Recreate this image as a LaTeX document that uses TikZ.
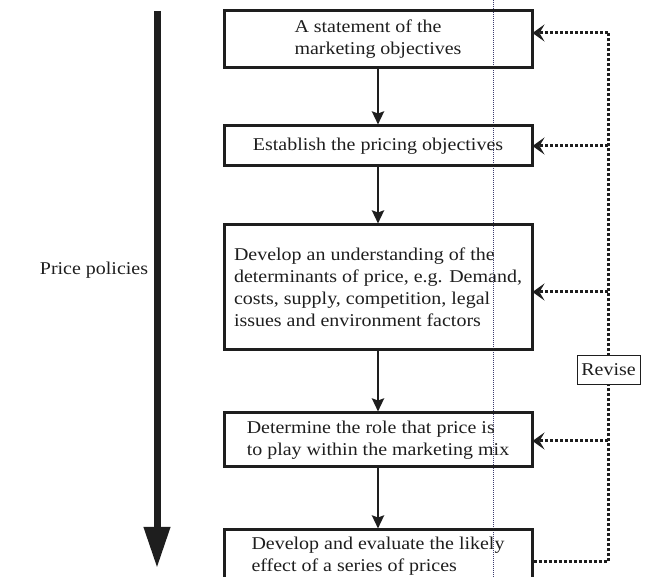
\documentclass[tikz,border=0pt]{standalone}
\usepackage{fontspec}
\setmainfont{Liberation Serif}[FakeStretch=1.11]
\usetikzlibrary{arrows.meta}
\definecolor{ink}{RGB}{30,30,30}
\definecolor{guide}{RGB}{60,60,110}
\begin{document}
\begin{tikzpicture}[x=1pt,y=-1pt,
  every node/.style={font=\fontsize{18pt}{22pt}\selectfont, text=ink},
  stepbox/.style={draw=ink, line width=3pt, minimum width=308pt, inner sep=0pt, align=left, anchor=center},
  flow/.style={draw=ink, line width=2.8pt, -{Stealth[length=13pt,width=12pt,inset=2pt]}},
  fbline/.style={draw=ink, line width=3pt, dash pattern=on 3pt off 2pt},
  fbarrow/.style={fbline, -{Stealth[length=12pt,width=17pt,inset=5pt]}, shorten >=-1pt},
  revbox/.style={draw=ink, line width=0.9pt, fill=white, minimum width=63pt, minimum height=29pt, inner sep=0pt}
]
\useasboundingbox (0,0) rectangle (649,577);
% thin guide line
\draw[guide, line width=0.6pt, dash pattern=on 1pt off 1pt] (493,0) -- (493,577);

% big arrow
\coordinate (ptop) at (157,11);
\coordinate (pbot) at (157,568);
\draw[ink, line width=7pt, -{Triangle[length=41pt,width=25pt]}] (ptop) -- (pbot);
\node (pp) at (94,270) {Price policies};

% boxes
\node[stepbox, minimum height=57pt] (b1) at (378,39.5) {A statement of the\\marketing objectives};
\node[stepbox, minimum height=40pt] (b2) at (378,146) {Establish the pricing objectives};
\node[stepbox, minimum height=125pt] (b3) at (378,287.5) {Develop an understanding of the\\determinants of price, e.g. Demand,\\costs, supply, competition, legal\\issues and environment factors};
\node[stepbox, minimum height=54pt] (b4) at (378,440) {Determine the role that price is\\to play within the marketing mix};
\node[stepbox, minimum height=52pt] (b5) at (378,556) {Develop and evaluate the likely\\effect of a series of prices};

\draw[flow] (b1.south) -- (b2.north);
\draw[flow] (b2.south) -- (b3.north);
\draw[flow] (b3.south) -- (b4.north);
\draw[flow] (b4.south) -- (b5.north);

% feedback
\coordinate (r1) at (608,33);
\coordinate (r2) at (608,146);
\coordinate (r3) at (608,292);
\coordinate (r4) at (608,441);
\coordinate (r5) at (608,562);
\draw[fbline] (b5.east |- r5) -- (r5) -- (r1);
\draw[fbarrow] (r1) -- (r1 -| b1.east);
\draw[fbarrow] (r2) -- (r2 -| b2.east);
\draw[fbarrow] (r3) -- (r3 -| b3.east);
\draw[fbarrow] (r4) -- (r4 -| b4.east);
\node[revbox] (rev) at (608.5,369.5) {Revise};
\end{tikzpicture}
\end{document}
